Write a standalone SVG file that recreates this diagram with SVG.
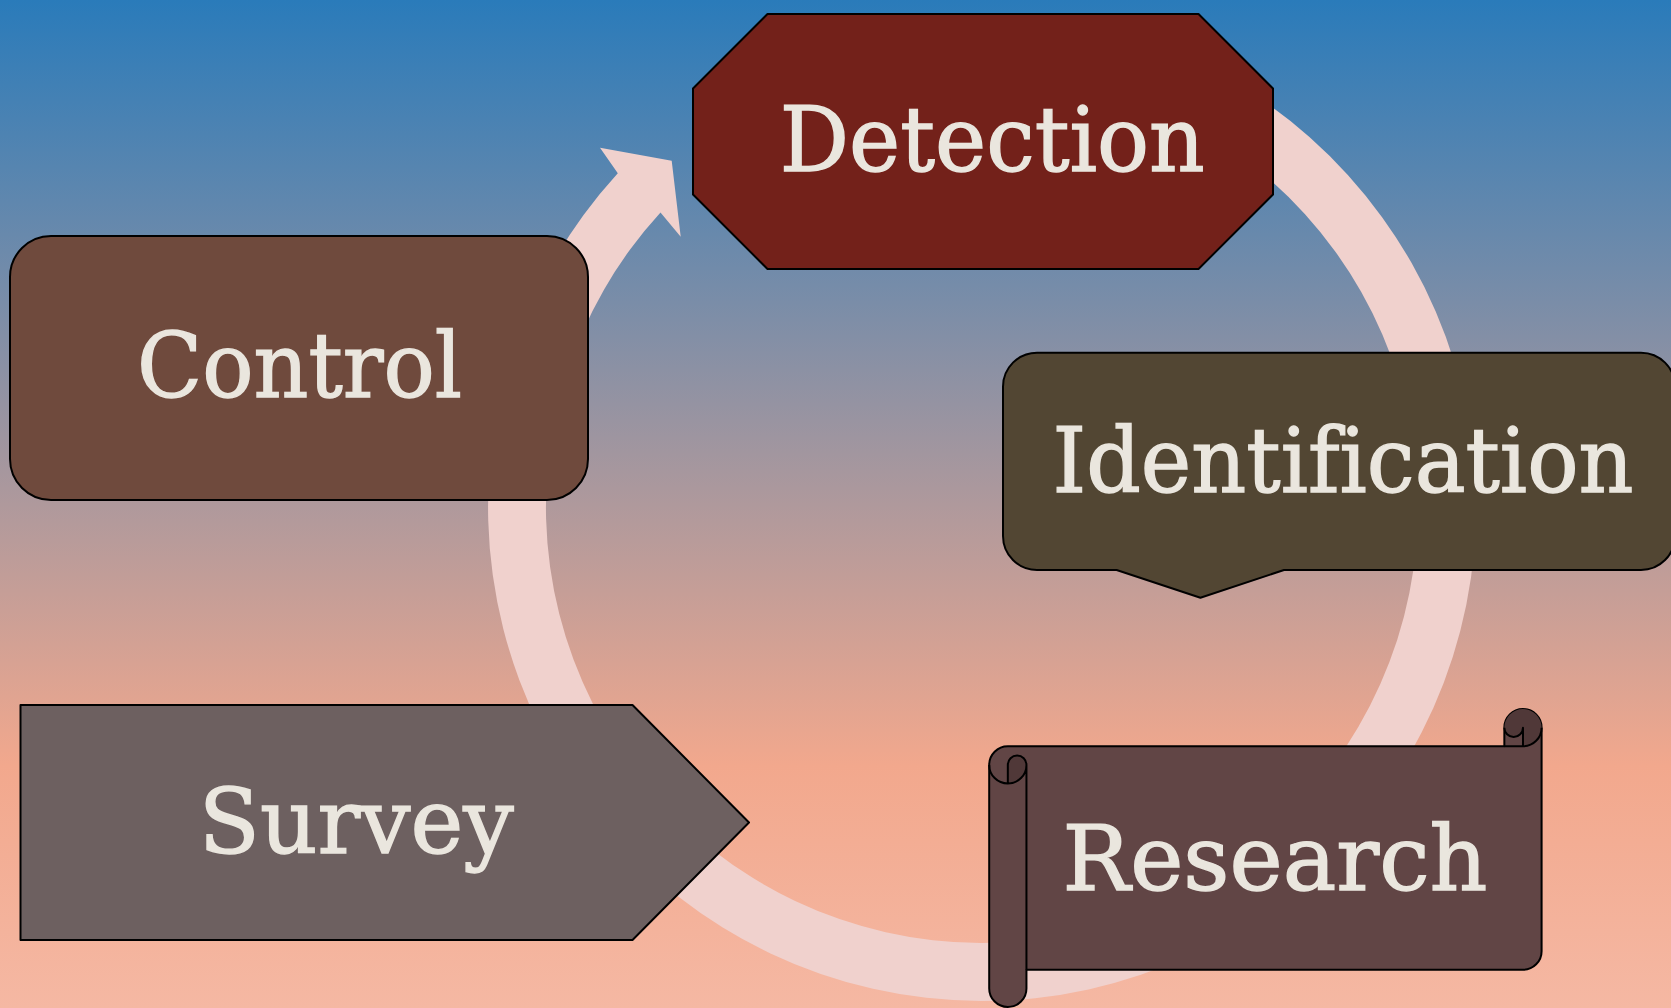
<svg xmlns="http://www.w3.org/2000/svg" width="1671" height="1008" viewBox="0 0 1671 1008">
  <defs>
    <linearGradient id="bg" x1="0" y1="0" x2="0" y2="1">
      <stop offset="0" stop-color="#2A7BBA"/>
      <stop offset="0.45" stop-color="#A2969F"/>
      <stop offset="0.76" stop-color="#F2A88D"/>
      <stop offset="1" stop-color="#F5B8A3"/>
    </linearGradient>
    <style>
      .node { stroke: #000; stroke-width: 2; stroke-linejoin: round; }
      .lbl { font-family: "DejaVu Serif", "Liberation Serif", serif; font-size: 90px; fill: #EAE6DE; stroke: #EAE6DE; stroke-width: 1.4; text-anchor: middle; font-variant-ligatures: none; font-feature-settings: "liga" 0; }
      .ring { fill: #F0D1CD; stroke: none; }
      .curl { fill: #503838; stroke: none; }
      .line { fill: none; stroke: #000; stroke-width: 2; stroke-linejoin: round; }
    </style>
  </defs>
  <rect x="0" y="0" width="1671" height="1008" fill="url(#bg)"/>

  <g id="connectors">
    <path class="ring" d="M 1067.8,20.5 A 494 494 0 1 1 617.8,173.3 L 600,147.7 L 671.7,160.7 L 680.7,236.7 L 660.5,212.4 A 436 436 0 1 0 1057.7,77.6 Z"/>
  </g>

  <g id="node-detection">
    <polygon class="node" fill="#73211A" points="767.5,14 1198.5,14 1273,88.5 1273,194.5 1198.5,269 767.5,269 693,194.5 693,88.5"/>
    <text class="lbl" x="992.3" y="170.7" textLength="425" lengthAdjust="spacingAndGlyphs">Detection</text>
  </g>

  <g id="node-control">
    <rect class="node" fill="#6F4A3D" x="10" y="236" width="578" height="264" rx="41" ry="41"/>
    <text class="lbl" x="299.5" y="397" textLength="325" lengthAdjust="spacingAndGlyphs">Control</text>
  </g>

  <g id="node-identification">
    <path class="node" fill="#524633" d="M 1037,352.7 L 1641,352.7 A 34 34 0 0 1 1675,386.7 L 1675,536 A 34 34 0 0 1 1641,570 L 1284,570 L 1200.4,597.7 L 1116.6,570 L 1037,570 A 34 34 0 0 1 1003,536 L 1003,386.7 A 34 34 0 0 1 1037,352.7 Z"/>
    <text class="lbl" x="1343" y="491.7" textLength="581" lengthAdjust="spacingAndGlyphs">Identification</text>
  </g>

  <g id="node-survey">
    <polygon class="node" fill="#6D6060" points="20.5,705 632.5,705 749,822.5 632.5,940 20.5,940"/>
    <text class="lbl" x="356.3" y="853.3" textLength="315" lengthAdjust="spacingAndGlyphs">Survey</text>
  </g>

  <g id="node-research">
    <g transform="translate(989.2,709)">
      <path class="node" fill="#614545" d="M 0,55.875 A 18.625 18.625 0 0 1 18.625,37.25 L 515.15,37.25 L 515.15,18.625 A 18.625 18.625 0 0 1 552.4,18.625 L 552.4,242.125 A 18.625 18.625 0 0 1 533.775,260.75 L 37.25,260.75 L 37.25,279.375 A 18.625 18.625 0 0 1 0,279.375 Z"/>
      <path class="curl" d="M 18.625,74.5 A 18.625 18.625 0 0 0 37.25,55.875 A 9.3125 9.3125 0 0 0 18.625,55.875 Z"/>
      <path class="curl" d="M 533.775,37.25 A 18.625 18.625 0 1 0 515.15,18.625 A 9.3125 9.3125 0 0 0 533.775,18.625 Z"/>
      <path class="line" d="M 515.15,37.25 L 533.775,37.25 A 18.625 18.625 0 0 0 552.4,18.625 M 533.775,37.25 L 533.775,18.625 A 9.3125 9.3125 0 0 1 515.15,18.625 M 18.625,74.5 L 18.625,55.875 A 9.3125 9.3125 0 0 1 37.25,55.875 A 18.625 18.625 0 0 1 0,55.875 M 37.25,55.875 L 37.25,260.75"/>
    </g>
    <text class="lbl" x="1275" y="890" textLength="425" lengthAdjust="spacingAndGlyphs">Research</text>
  </g>
</svg>
